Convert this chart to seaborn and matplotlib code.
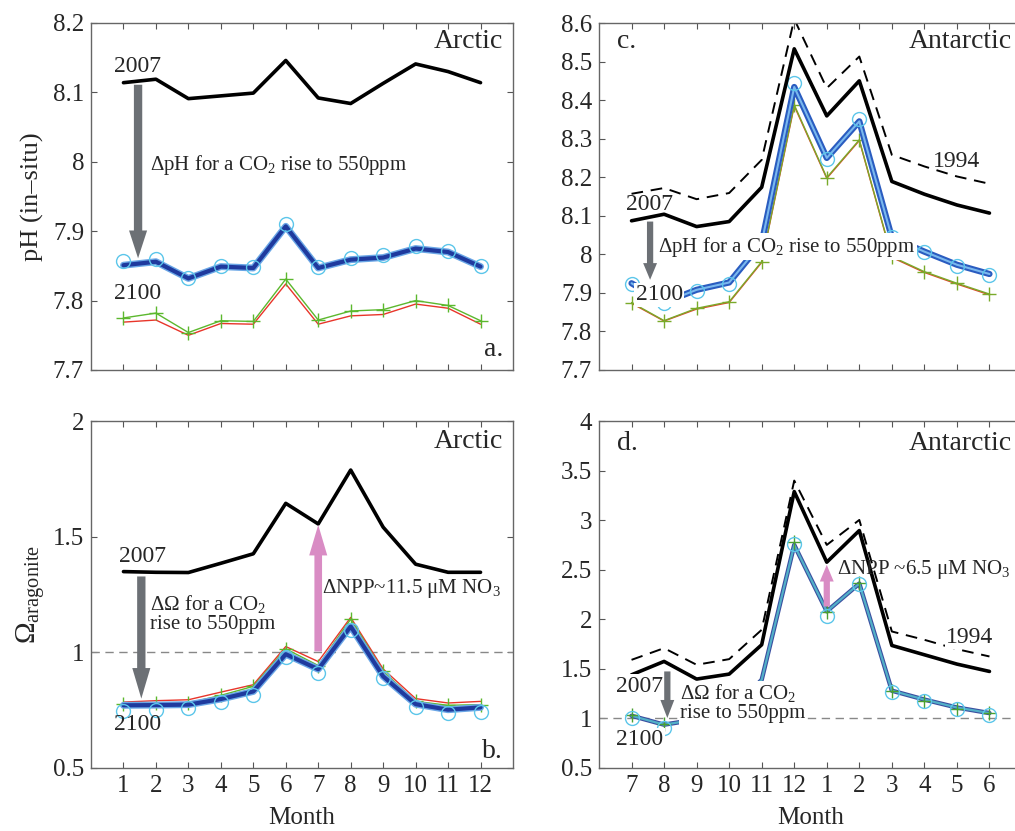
import numpy as np
import matplotlib
matplotlib.use("Agg")
import matplotlib.pyplot as plt
import seaborn as sns

# ---------------------------------------------------------------------------
# data
# ---------------------------------------------------------------------------
pos = np.arange(1, 13)
arctic_months = ['1', '2', '3', '4', '5', '6', '7', '8', '9', '10', '11', '12']
antarctic_months = ['7', '8', '9', '10', '11', '12', '1', '2', '3', '4', '5', '6']

# a. Arctic pH
ph_arc_2007 = [8.114, 8.119, 8.091, 8.095, 8.099, 8.146, 8.092, 8.084, 8.113, 8.141, 8.130, 8.114]
ph_arc_blue = [7.851, 7.856, 7.832, 7.849, 7.847, 7.907, 7.847, 7.859, 7.862, 7.875, 7.870, 7.849]
ph_arc_circ = [7.857, 7.860, 7.833, 7.850, 7.848, 7.911, 7.849, 7.862, 7.865, 7.879, 7.872, 7.850]
ph_arc_green = [7.775, 7.782, 7.754, 7.771, 7.770, 7.831, 7.772, 7.785, 7.787, 7.800, 7.793, 7.771]
ph_arc_red = [7.769, 7.772, 7.750, 7.767, 7.766, 7.824, 7.766, 7.778, 7.780, 7.795, 7.789, 7.766]

# b. Arctic omega aragonite
om_arc_2007 = [1.349, 1.346, 1.345, 1.385, 1.426, 1.644, 1.555, 1.788, 1.541, 1.381, 1.346, 1.346]
om_arc_blue = [0.771, 0.772, 0.774, 0.798, 0.831, 0.992, 0.927, 1.112, 0.896, 0.776, 0.752, 0.762]
om_arc_circ = [0.745, 0.752, 0.759, 0.785, 0.817, 0.978, 0.910, 1.097, 0.889, 0.762, 0.738, 0.742]
om_arc_green = [0.776, 0.781, 0.781, 0.814, 0.853, 1.015, 0.943, 1.143, 0.918, 0.788, 0.771, 0.774]
om_arc_red = [0.785, 0.791, 0.795, 0.828, 0.860, 1.025, 0.960, 1.151, 0.928, 0.800, 0.781, 0.788]

# c. Antarctic pH
ph_ant_2007 = [8.087, 8.104, 8.072, 8.085, 8.174, 8.533, 8.359, 8.450, 8.189, 8.156, 8.128, 8.107]
ph_ant_1994 = [8.157, 8.172, 8.143, 8.159, 8.245, 8.610, 8.431, 8.513, 8.258, 8.228, 8.202, 8.183]
ph_ant_blue = [7.925, 7.875, 7.908, 7.927, 8.030, 8.434, 8.250, 8.345, 8.044, 8.007, 7.973, 7.949]
ph_ant_circ = [7.923, 7.873, 7.906, 7.923, np.nan, 8.444, 8.247, 8.351, 8.046, 8.005, 7.971, 7.947]
ph_ant_green = [7.875, 7.828, 7.860, 7.877, 7.981, 8.388, 8.199, 8.297, 7.994, 7.955, 7.925, 7.897]
ph_ant_red = [7.873, 7.827, 7.858, 7.875, 7.979, 8.385, 8.197, 8.295, 7.992, 7.953, 7.923, 7.895]

# d. Antarctic omega aragonite
om_ant_2007 = [1.440, 1.575, 1.397, 1.447, 1.743, 3.288, 2.576, 2.895, 1.736, 1.642, 1.548, 1.474]
om_ant_1994 = [1.591, 1.709, 1.541, 1.598, 1.894, 3.399, 2.750, 3.002, 1.877, 1.793, 1.699, 1.625]
om_ant_blue = [1.027, 0.937, 0.990, 1.050, 1.390, 2.750, 2.080, 2.360, 1.280, 1.190, 1.110, 1.054]
om_ant_circ = [1.000, 0.903, np.nan, np.nan, np.nan, 2.757, 2.035, 2.357, 1.262, 1.172, 1.094, 1.037]
om_ant_green = [1.030, 0.940, np.nan, np.nan, np.nan, 2.780, 2.070, 2.370, 1.280, 1.180, 1.100, 1.050]

# ---------------------------------------------------------------------------
sns.set_style("ticks")
plt.rcParams['font.family'] = ['Liberation Serif', 'DejaVu Serif']
plt.rcParams['mathtext.fontset'] = 'custom'
plt.rcParams['mathtext.rm'] = 'Liberation Serif'
plt.rcParams['mathtext.it'] = 'Liberation Serif:italic'
plt.rcParams['xtick.direction'] = 'in'
plt.rcParams['ytick.direction'] = 'in'

GRAY_ARROW = '#6c7075'
PINK = '#d98cc4'
CYAN = '#5cc6ea'
BOX = dict(facecolor='white', edgecolor='none', pad=1.0)

fig = plt.figure(figsize=(10.15, 8.31), dpi=100)
W, H = 1015, 831


def add_ax(left, top, right, bottom):
    return fig.add_axes([left / W, 1 - bottom / H, (right - left) / W, (bottom - top) / H])


ax_a = add_ax(91, 23, 513, 370)
ax_b = add_ax(91, 421, 513, 768)
ax_c = add_ax(599, 23, 1022, 370)
ax_d = add_ax(599, 421, 1022, 768)


def style(ax, ylim, yticks, ylabels, xlabels, show_x):
    ax.set_xlim(0, 13)
    ax.set_ylim(*ylim)
    ax.set_yticks(yticks)
    ax.set_yticklabels(ylabels, fontsize=18)
    ax.set_xticks(pos)
    if show_x:
        ax.set_xticklabels(xlabels, fontsize=18)
        ax.set_xlabel('Month', fontsize=18, labelpad=7)
    else:
        ax.set_xticklabels([])
    ax.tick_params(top=True, right=True, length=4, width=0.8, color='#555555', pad=5)
    for s in ax.spines.values():
        s.set_color('#666666')
        s.set_linewidth(1.0)


def line(ax, y, **kw):
    sns.lineplot(x=pos, y=y, ax=ax, legend=False, **kw)


def circles(ax, y):
    line(ax, y, color=CYAN, lw=0, marker='o', ms=10, mfc='none', mec=CYAN, mew=1.0)


def crosses(ax, y, color, lw=1.0):
    line(ax, y, color=color, lw=lw, marker='+', ms=10, mec=color, mew=1.0)


def arrow(ax, x, y0, y1, color, sw, hw, hl):
    ax.annotate('', xy=(x, y1), xytext=(x, y0), zorder=6,
                arrowprops=dict(width=sw, headwidth=hw, headlength=hl,
                                shrink=0, color=color, lw=0))


# ---------------- a. Arctic pH ----------------
ax = ax_a
line(ax, ph_arc_red, color='#e8352a', lw=1.0)
crosses(ax, ph_arc_green, '#5cb82e')
line(ax, ph_arc_blue, color='#6aa6e6', lw=5.0)
line(ax, ph_arc_blue, color='#1f3a9e', lw=3.0)
circles(ax, ph_arc_circ)
line(ax, ph_arc_2007, color='black', lw=2.6)
arrow(ax, 1.45, 8.111, 7.861, GRAY_ARROW, 6, 13, 20)
ax.text(1.42, 8.137, '2007', fontsize=17, ha='center', va='center')
ax.text(1.42, 7.81, '2100', fontsize=17, ha='center', va='center')
ax.text(1.82, 7.996, r'$\Delta$pH for a CO$_2$ rise to 550ppm', fontsize=15, ha='left', va='center')
ax.text(12.7, 8.174, 'Arctic', fontsize=20, ha='right', va='center')
ax.text(12.7, 7.729, 'a.', fontsize=20, ha='right', va='center')
style(ax, (7.7, 8.2), [7.7, 7.8, 7.9, 8.0, 8.1, 8.2], ['7.7', '7.8', '7.9', '8', '8.1', '8.2'], arctic_months, False)
ax.set_ylabel('pH (in\u2013situ)', fontsize=19, labelpad=6)

# ---------------- b. Arctic omega ----------------
ax = ax_b
ax.axhline(1.0, color='#888888', lw=1.0, ls=(0, (6, 4)), zorder=1)
line(ax, om_arc_red, color='#e8352a', lw=1.0)
crosses(ax, om_arc_green, '#5cb82e')
line(ax, om_arc_blue, color='#6aa6e6', lw=5.0)
line(ax, om_arc_blue, color='#1f3a9e', lw=3.0)
circles(ax, om_arc_circ)
line(ax, om_arc_2007, color='black', lw=2.6)
arrow(ax, 1.55, 1.328, 0.80, GRAY_ARROW, 6, 13, 22)
arrow(ax, 7.0, 1.004, 1.551, PINK, 5.5, 13, 22)
ax.text(1.6, 1.414, '2007', fontsize=17, ha='center', va='center')
ax.text(1.42, 0.687, '2100', fontsize=17, ha='center', va='center')
ax.text(1.82, 1.167, '$\\Delta\\Omega$ for a CO$_2$\nrise to 550ppm', fontsize=15,
        ha='left', va='center', linespacing=1.0)
ax.text(7.12, 1.277, r'$\Delta$NPP~11.5 $\mathrm{\mu}$M NO$_3$', fontsize=15, ha='left', va='center')
ax.text(12.7, 1.911, 'Arctic', fontsize=20, ha='right', va='center')
ax.text(12.7, 0.572, 'b.', fontsize=20, ha='right', va='center')
style(ax, (0.5, 2.0), [0.5, 1.0, 1.5, 2.0], ['0.5', '1', '1.5', '2'], arctic_months, True)
ax.set_ylabel(r'$\Omega_{\mathrm{aragonite}}$', fontsize=21, labelpad=4)

# ---------------- c. Antarctic pH ----------------
ax = ax_c
line(ax, ph_ant_red, color='#e0452a', lw=1.0)
crosses(ax, ph_ant_green, '#7aaa2a')
line(ax, ph_ant_blue, color='#2a5cc0', lw=4.5)
line(ax, ph_ant_blue, color='#7ab8ee', lw=1.5)
circles(ax, ph_ant_circ)
line(ax, ph_ant_1994, color='black', lw=1.4, ls=(0, (6, 4)))
line(ax, ph_ant_2007, color='black', lw=2.6)
arrow(ax, 1.57, 8.085, 7.934, GRAY_ARROW, 4.5, 10, 12)
ax.text(1.54, 8.128, '2007', fontsize=17, ha='center', va='center')
ax.text(1.85, 7.895, '2100', fontsize=17, ha='center', va='center', bbox=BOX, zorder=5)
ax.text(1.82, 8.020, r'$\Delta$pH for a CO$_2$ rise to 550ppm', fontsize=15, ha='left',
        va='center', bbox=BOX, zorder=5)
ax.text(11.0, 8.241, '1994', fontsize=17, ha='center', va='center')
ax.text(0.55, 8.552, 'c.', fontsize=20, ha='left', va='center')
ax.text(12.7, 8.552, 'Antarctic', fontsize=20, ha='right', va='center')
style(ax, (7.7, 8.6), [7.7, 7.8, 7.9, 8.0, 8.1, 8.2, 8.3, 8.4, 8.5, 8.6],
      ['7.7', '7.8', '7.9', '8', '8.1', '8.2', '8.3', '8.4', '8.5', '8.6'], antarctic_months, False)
ax.set_ylabel('')

# ---------------- d. Antarctic omega ----------------
ax = ax_d
ax.axhline(1.0, color='#888888', lw=1.0, ls=(0, (6, 4)), zorder=1)
line(ax, om_ant_blue, color='#3a4fa0', lw=3.2)
line(ax, om_ant_blue, color='#52b0c8', lw=1.6)
crosses(ax, om_ant_green, '#4aa030', lw=0)
circles(ax, om_ant_circ)
line(ax, om_ant_1994, color='black', lw=1.4, ls=(0, (6, 4)))
line(ax, om_ant_2007, color='black', lw=2.6)
arrow(ax, 2.1, 1.474, 1.004, GRAY_ARROW, 4.5, 10, 13)
arrow(ax, 7.0, 2.129, 2.549, PINK, 4.5, 10, 12)
ax.text(1.26, 1.323, '2007', fontsize=17, ha='center', va='center', bbox=BOX, zorder=5)
ax.text(1.26, 0.785, '2100', fontsize=17, ha='center', va='center', bbox=BOX, zorder=5)
ax.text(2.5, 1.16, '$\\Delta\\Omega$ for a CO$_2$\nrise to 550ppm', fontsize=15, ha='left',
        va='center', linespacing=1.0, bbox=BOX, zorder=5)
ax.text(7.3, 2.50, r'$\Delta$NPP ~6.5 $\mathrm{\mu}$M NO$_3$', fontsize=15, ha='left', va='center')
ax.text(11.4, 1.817, '1994', fontsize=17, ha='center', va='center', bbox=BOX, zorder=5)
ax.text(0.55, 3.775, 'd.', fontsize=20, ha='left', va='center')
ax.text(12.7, 3.775, 'Antarctic', fontsize=20, ha='right', va='center')
style(ax, (0.5, 4.0), [0.5, 1, 1.5, 2, 2.5, 3, 3.5, 4],
      ['0.5', '1', '1.5', '2', '2.5', '3', '3.5', '4'], antarctic_months, True)
ax.set_ylabel('')

fig.savefig('out.png', dpi=100)
